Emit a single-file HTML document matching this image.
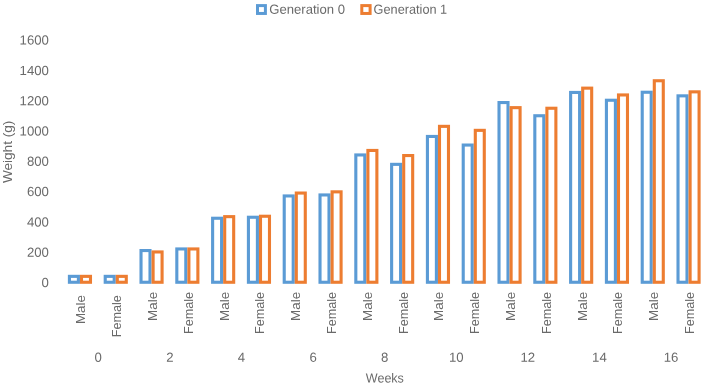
<!DOCTYPE html>
<html><head><meta charset="utf-8"><title>Weight by week</title>
<style>
html,body{margin:0;padding:0;background:#fff;}
svg{display:block;will-change:transform;}
text{font-family:"Liberation Sans",sans-serif;font-size:13.2px;fill:#6a6a6a;}
</style></head><body>
<svg width="709" height="387" viewBox="0 0 709 387">
<rect width="709" height="387" fill="#fff"/>

<rect x="257.5" y="5.6" width="7.9" height="7.85" fill="#fff" stroke="#5B9BD5" stroke-width="3"/>
<text transform="translate(269.2,13.7) rotate(0.03)" textLength="75.8" lengthAdjust="spacingAndGlyphs">Generation 0</text>
<rect x="361.8" y="5.6" width="8.3" height="7.85" fill="#fff" stroke="#ED7D31" stroke-width="3"/>
<text transform="translate(373.6,13.7) rotate(0.03)" textLength="73.6" lengthAdjust="spacingAndGlyphs">Generation 1</text>
<text transform="translate(48.9,287.00) rotate(0.03)" text-anchor="end">0</text>
<text transform="translate(48.9,256.70) rotate(0.03)" text-anchor="end">200</text>
<text transform="translate(48.9,226.40) rotate(0.03)" text-anchor="end">400</text>
<text transform="translate(48.9,196.10) rotate(0.03)" text-anchor="end">600</text>
<text transform="translate(48.9,165.80) rotate(0.03)" text-anchor="end">800</text>
<text transform="translate(48.9,135.50) rotate(0.03)" text-anchor="end">1000</text>
<text transform="translate(48.9,105.20) rotate(0.03)" text-anchor="end">1200</text>
<text transform="translate(48.9,74.90) rotate(0.03)" text-anchor="end">1400</text>
<text transform="translate(48.9,44.60) rotate(0.03)" text-anchor="end">1600</text>
<text transform="translate(12.4,183.1) rotate(-90)" textLength="62.4" lengthAdjust="spacingAndGlyphs">Weight (g)</text>
<rect x="69.42" y="276.35" width="8.98" height="5.90" fill="#fff" stroke="#5B9BD5" stroke-width="3.1"/>
<rect x="81.50" y="276.35" width="8.98" height="5.90" fill="#fff" stroke="#ED7D31" stroke-width="3.1"/>
<text transform="translate(84.60,324.1) rotate(-90)" textLength="29.1" lengthAdjust="spacingAndGlyphs">Male</text>
<rect x="105.22" y="276.35" width="8.98" height="5.90" fill="#fff" stroke="#5B9BD5" stroke-width="3.1"/>
<rect x="117.30" y="276.35" width="8.98" height="5.90" fill="#fff" stroke="#ED7D31" stroke-width="3.1"/>
<text transform="translate(120.80,337.2) rotate(-90)" textLength="42.1" lengthAdjust="spacingAndGlyphs">Female</text>
<rect x="141.02" y="250.55" width="8.98" height="31.70" fill="#fff" stroke="#5B9BD5" stroke-width="3.1"/>
<rect x="153.10" y="251.95" width="8.98" height="30.30" fill="#fff" stroke="#ED7D31" stroke-width="3.1"/>
<text transform="translate(157.00,320.9) rotate(-90)" textLength="29.1" lengthAdjust="spacingAndGlyphs">Male</text>
<rect x="176.82" y="248.95" width="8.98" height="33.30" fill="#fff" stroke="#5B9BD5" stroke-width="3.1"/>
<rect x="188.90" y="248.95" width="8.98" height="33.30" fill="#fff" stroke="#ED7D31" stroke-width="3.1"/>
<text transform="translate(192.80,334.0) rotate(-90)" textLength="42.1" lengthAdjust="spacingAndGlyphs">Female</text>
<rect x="212.62" y="218.25" width="8.98" height="64.00" fill="#fff" stroke="#5B9BD5" stroke-width="3.1"/>
<rect x="224.70" y="216.65" width="8.98" height="65.60" fill="#fff" stroke="#ED7D31" stroke-width="3.1"/>
<text transform="translate(228.60,320.9) rotate(-90)" textLength="29.1" lengthAdjust="spacingAndGlyphs">Male</text>
<rect x="248.42" y="217.25" width="8.98" height="65.00" fill="#fff" stroke="#5B9BD5" stroke-width="3.1"/>
<rect x="260.50" y="216.25" width="8.98" height="66.00" fill="#fff" stroke="#ED7D31" stroke-width="3.1"/>
<text transform="translate(264.40,334.0) rotate(-90)" textLength="42.1" lengthAdjust="spacingAndGlyphs">Female</text>
<rect x="284.22" y="195.95" width="8.98" height="86.30" fill="#fff" stroke="#5B9BD5" stroke-width="3.1"/>
<rect x="296.30" y="193.05" width="8.98" height="89.20" fill="#fff" stroke="#ED7D31" stroke-width="3.1"/>
<text transform="translate(300.20,320.9) rotate(-90)" textLength="29.1" lengthAdjust="spacingAndGlyphs">Male</text>
<rect x="320.02" y="194.95" width="8.98" height="87.30" fill="#fff" stroke="#5B9BD5" stroke-width="3.1"/>
<rect x="332.10" y="191.85" width="8.98" height="90.40" fill="#fff" stroke="#ED7D31" stroke-width="3.1"/>
<text transform="translate(336.00,334.0) rotate(-90)" textLength="42.1" lengthAdjust="spacingAndGlyphs">Female</text>
<rect x="355.82" y="154.95" width="8.98" height="127.30" fill="#fff" stroke="#5B9BD5" stroke-width="3.1"/>
<rect x="367.90" y="150.45" width="8.98" height="131.80" fill="#fff" stroke="#ED7D31" stroke-width="3.1"/>
<text transform="translate(371.80,320.9) rotate(-90)" textLength="29.1" lengthAdjust="spacingAndGlyphs">Male</text>
<rect x="391.62" y="164.35" width="8.98" height="117.90" fill="#fff" stroke="#5B9BD5" stroke-width="3.1"/>
<rect x="403.70" y="155.55" width="8.98" height="126.70" fill="#fff" stroke="#ED7D31" stroke-width="3.1"/>
<text transform="translate(407.60,334.0) rotate(-90)" textLength="42.1" lengthAdjust="spacingAndGlyphs">Female</text>
<rect x="427.42" y="136.45" width="8.98" height="145.80" fill="#fff" stroke="#5B9BD5" stroke-width="3.1"/>
<rect x="439.50" y="126.35" width="8.98" height="155.90" fill="#fff" stroke="#ED7D31" stroke-width="3.1"/>
<text transform="translate(443.40,320.9) rotate(-90)" textLength="29.1" lengthAdjust="spacingAndGlyphs">Male</text>
<rect x="463.22" y="145.05" width="8.98" height="137.20" fill="#fff" stroke="#5B9BD5" stroke-width="3.1"/>
<rect x="475.30" y="130.35" width="8.98" height="151.90" fill="#fff" stroke="#ED7D31" stroke-width="3.1"/>
<text transform="translate(479.20,334.0) rotate(-90)" textLength="42.1" lengthAdjust="spacingAndGlyphs">Female</text>
<rect x="499.02" y="102.55" width="8.98" height="179.70" fill="#fff" stroke="#5B9BD5" stroke-width="3.1"/>
<rect x="511.10" y="107.65" width="8.98" height="174.60" fill="#fff" stroke="#ED7D31" stroke-width="3.1"/>
<text transform="translate(515.00,320.9) rotate(-90)" textLength="29.1" lengthAdjust="spacingAndGlyphs">Male</text>
<rect x="534.82" y="115.75" width="8.98" height="166.50" fill="#fff" stroke="#5B9BD5" stroke-width="3.1"/>
<rect x="546.90" y="108.25" width="8.98" height="174.00" fill="#fff" stroke="#ED7D31" stroke-width="3.1"/>
<text transform="translate(550.80,334.0) rotate(-90)" textLength="42.1" lengthAdjust="spacingAndGlyphs">Female</text>
<rect x="570.62" y="92.45" width="8.98" height="189.80" fill="#fff" stroke="#5B9BD5" stroke-width="3.1"/>
<rect x="582.70" y="88.15" width="8.98" height="194.10" fill="#fff" stroke="#ED7D31" stroke-width="3.1"/>
<text transform="translate(586.60,320.9) rotate(-90)" textLength="29.1" lengthAdjust="spacingAndGlyphs">Male</text>
<rect x="606.42" y="100.25" width="8.98" height="182.00" fill="#fff" stroke="#5B9BD5" stroke-width="3.1"/>
<rect x="618.50" y="94.95" width="8.98" height="187.30" fill="#fff" stroke="#ED7D31" stroke-width="3.1"/>
<text transform="translate(622.40,334.0) rotate(-90)" textLength="42.1" lengthAdjust="spacingAndGlyphs">Female</text>
<rect x="642.22" y="92.25" width="8.98" height="190.00" fill="#fff" stroke="#5B9BD5" stroke-width="3.1"/>
<rect x="654.30" y="80.75" width="8.98" height="201.50" fill="#fff" stroke="#ED7D31" stroke-width="3.1"/>
<text transform="translate(658.20,320.9) rotate(-90)" textLength="29.1" lengthAdjust="spacingAndGlyphs">Male</text>
<rect x="678.02" y="95.85" width="8.98" height="186.40" fill="#fff" stroke="#5B9BD5" stroke-width="3.1"/>
<rect x="690.10" y="91.85" width="8.98" height="190.40" fill="#fff" stroke="#ED7D31" stroke-width="3.1"/>
<text transform="translate(694.00,334.0) rotate(-90)" textLength="42.1" lengthAdjust="spacingAndGlyphs">Female</text>
<text transform="translate(98.25,361.8) rotate(0.03)" text-anchor="middle">0</text>
<text transform="translate(169.85,361.8) rotate(0.03)" text-anchor="middle">2</text>
<text transform="translate(241.45,361.8) rotate(0.03)" text-anchor="middle">4</text>
<text transform="translate(313.05,361.8) rotate(0.03)" text-anchor="middle">6</text>
<text transform="translate(384.65,361.8) rotate(0.03)" text-anchor="middle">8</text>
<text transform="translate(456.25,361.8) rotate(0.03)" text-anchor="middle">10</text>
<text transform="translate(527.85,361.8) rotate(0.03)" text-anchor="middle">12</text>
<text transform="translate(599.45,361.8) rotate(0.03)" text-anchor="middle">14</text>
<text transform="translate(671.05,361.8) rotate(0.03)" text-anchor="middle">16</text>
<text transform="translate(384.85,382.4) rotate(0.03)" text-anchor="middle" textLength="38.1" lengthAdjust="spacingAndGlyphs">Weeks</text>
</svg></body></html>
